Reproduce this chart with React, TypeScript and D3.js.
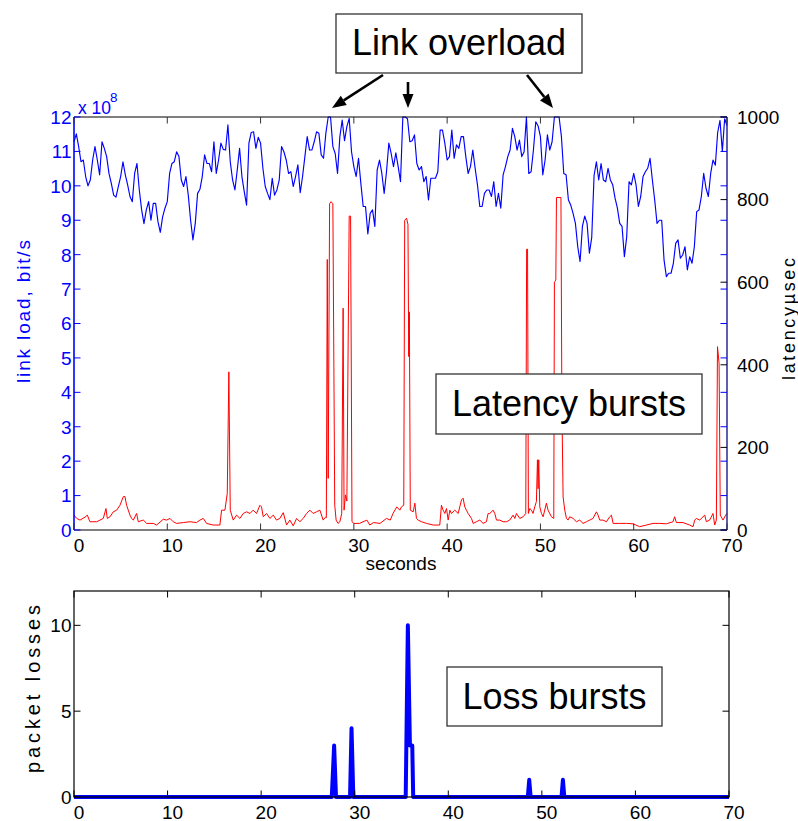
import React from "react";
import * as d3 from "d3";

// ---------- DATA ----------
// link load (x 10^8 bit/s), sampled every 0.25 s
const LOAD_STEP = 0.25;
const loadSeg1 = [ // t = 0 .. 14
  11.28, 11.51, 11.14, 10.7, 10.75, 10.27, 10.0, 10.17, 10.75, 11.14, 10.75, 10.32,
  11.28, 11.09, 10.85, 10.36, 10.07, 9.73, 9.67, 9.98, 10.27, 10.7, 10.32, 10.03,
  9.69, 9.54, 10.36, 10.65, 9.88, 9.3, 8.9, 9.3, 9.54, 9.0, 9.49, 9.49,
  8.96, 8.65, 9.1, 9.35, 9.54, 10.36, 10.65, 10.7, 10.99, 10.85, 10.17, 9.98,
  10.27, 9.73, 9.0, 8.43, 8.91, 9.78, 9.9, 10.27, 10.9,
];
const loadSeg2 = [ // t = 14.25 .. 28
  10.65, 10.65, 10.41, 11.28, 10.36, 10.75, 11.24, 11.06, 11.04, 11.77, 10.7, 10.17,
  9.88, 10.46, 11.09, 10.27, 9.83, 9.44, 11.24, 11.55, 11.57, 11.09, 11.41, 11.24,
  10.51, 9.98, 9.78, 9.6, 10.22, 9.73, 9.88, 10.17, 11.14, 10.99, 10.75, 10.36,
  10.41, 9.98, 10.27, 10.61, 9.8, 10.27, 10.85, 11.43, 11.04, 11.04, 11.28, 11.57,
  11.53, 10.9, 10.8, 11.53, 12.0, 12.0, 11.14, 10.94,
];
const loadSeg3 = [ // t = 28.25 .. 42
  10.36, 11.43, 11.91, 11.31, 11.72, 11.96, 10.99, 10.56, 10.27, 10.8, 10.07, 9.4,
  9.4, 8.6, 9.2, 9.3, 8.82, 10.46, 10.75, 10.36, 9.78, 10.41, 11.24, 10.94,
  10.56, 10.96, 10.56, 10.12, 12.0, 12.0, 11.95, 11.28, 11.31, 11.48, 10.65, 10.46,
  10.56, 10.12, 10.27, 9.59, 10.22, 10.22, 10.22, 10.41, 11.62, 11.62, 11.24, 10.75,
  10.85, 11.62, 10.8, 11.19, 11.09, 11.43, 11.43, 10.85,
];
const loadSeg4 = [ // t = 42.25 .. 56
  10.36, 10.56, 11.04, 10.51, 10.03, 9.4, 9.4, 9.78, 9.88, 9.88, 9.69, 10.12,
  9.4, 9.78, 9.35, 10.32, 10.56, 10.85, 11.04, 11.67, 11.43, 11.04, 11.33, 10.85,
  10.99, 12.0, 10.36, 10.41, 11.04, 11.86, 11.74, 11.43, 10.32, 10.75, 11.48, 11.04,
  11.28, 12.0, 12.0, 12.0, 11.43, 10.36, 10.32, 9.59, 9.44, 9.2, 8.91, 8.23,
  7.8, 8.82, 9.12, 8.91, 8.04, 8.5, 10.3, 10.7,
];
const loadSeg5 = [ // t = 56.25 .. 70
  10.17, 10.65, 10.17, 10.12, 10.51, 10.17, 10.03, 9.64, 9.35, 8.91, 8.82, 7.94,
  8.52, 10.12, 10.03, 10.36, 10.03, 9.4, 9.69, 10.27, 10.41, 10.51, 10.8, 10.17,
  9.59, 8.91, 9.0, 9.0, 7.85, 7.36, 7.46, 7.46, 7.75, 8.33, 8.43, 7.9,
  7.99, 8.23, 7.56, 7.94, 7.75, 8.23, 9.25, 9.3, 9.69, 10.36, 9.93, 9.69,
  10.36, 10.75, 10.6, 11.55, 11.9, 11.0, 11.95, 11.75,
];
const linkLoad = [...loadSeg1, ...loadSeg2, ...loadSeg3, ...loadSeg4, ...loadSeg5];

// latency (µsec)
const latencyTime = [
  0, 0.29, 0.64, 1.18, 1.43, 1.71, 2.43, 3.14, 3.43, 3.57, 3.86, 4.21, 4.57, 4.93, 5.29, 5.46,
  5.64, 6.0, 6.18, 6.36, 6.71, 6.89, 7.43, 7.79, 8.5, 8.86, 9.57, 9.93, 10.29, 10.64, 11.0, 11.71,
  12.43, 13.14, 13.5, 13.86, 14.21, 14.93, 15.64, 15.82, 16.18, 16.43, 16.6, 16.75, 17.07, 17.43,
  17.79, 18.14, 18.5, 18.86, 19.21, 19.57, 19.93, 20.1, 20.29, 20.64, 21.0, 21.36, 21.71, 22.07,
  22.43, 22.79, 23.14, 23.5, 23.86, 24.21, 24.57, 24.93, 25.29, 25.64, 26.0, 26.36, 26.71, 26.96,
  27.05, 27.15, 27.25, 27.4, 27.55, 27.75, 27.95, 28.1, 28.3, 28.5, 28.7, 28.85, 28.95, 29.1,
  29.25, 29.5, 29.65, 29.8, 30.0, 30.6, 31.4, 31.7, 32.1, 32.8, 33.5, 33.9, 34.2, 34.6, 34.93,
  35.1, 35.35, 35.45, 35.65, 35.8, 35.88, 35.95, 36.05, 36.36, 36.54, 36.71, 36.89, 37.25, 37.79,
  38.5, 39.21, 39.39, 39.57, 39.75, 39.93, 40.11, 40.29, 40.46, 40.82, 41.18, 41.54, 41.71, 41.89,
  42.07, 42.25, 42.61, 42.79, 43.14, 43.5, 43.86, 44.21, 44.39, 44.57, 44.93, 45.11, 45.29, 45.64,
  46.0, 46.36, 46.71, 47.07, 47.25, 47.43, 47.79, 48.14, 48.43, 48.52, 48.62, 48.71, 48.86, 49.04,
  49.21, 49.39, 49.57, 49.68, 49.75, 49.82, 49.93, 50.11, 50.29, 50.64, 50.82, 51.18, 51.43, 51.5,
  51.65, 51.72, 52.2, 52.3, 52.43, 52.61, 52.79, 52.96, 53.14, 53.5, 53.86, 54.21, 54.57, 54.93,
  55.29, 55.64, 56.0, 56.18, 56.36, 56.71, 57.07, 57.43, 57.61, 57.79, 58.5, 59.21, 59.93, 60.64,
  61.36, 62.07, 62.79, 63.5, 64.21, 64.39, 64.57, 65.29, 66.0, 66.36, 66.54, 66.71, 67.07, 67.43,
  67.61, 67.79, 68.14, 68.5, 68.68, 68.86, 68.98, 69.15, 69.28, 69.57, 69.86, 70,
];
const latencyUsec = [
  36, 28, 24, 31, 36, 20, 20, 28, 52, 28, 32, 44, 48, 60, 81, 81,
  60, 36, 28, 24, 40, 20, 24, 16, 16, 12, 26, 24, 28, 20, 16, 18,
  20, 18, 24, 28, 16, 12, 12, 48, 48, 89, 383, 48, 24, 36,
  28, 40, 44, 40, 48, 40, 60, 56, 32, 40, 28, 36, 24, 28,
  42, 12, 24, 10, 28, 20, 28, 40, 48, 40, 44, 48, 24, 31,
  30, 655, 125, 790, 795, 790, 60, 24, 16, 20, 40, 537, 48, 85,
  70, 760, 760, 20, 16, 16, 24, 12, 18, 16, 28, 24, 40, 56, 48,
  56, 60, 750, 755, 740, 420, 528, 48, 44, 65, 28, 24, 20, 16,
  12, 12, 60, 48, 40, 52, 24, 48, 40, 48, 40, 73, 77, 56,
  48, 40, 28, 16, 20, 24, 16, 20, 40, 40, 48, 40, 24, 24,
  20, 20, 24, 36, 28, 40, 28, 32, 40, 680, 680, 40, 52, 48,
  40, 56, 69, 170, 100, 170, 56, 40, 32, 65, 48, 32, 28, 600,
  605, 805, 805, 300, 80, 48, 28, 24, 32, 28, 20, 24, 16, 20,
  24, 28, 44, 36, 24, 24, 20, 32, 36, 16, 16, 16, 15, 8,
  12, 16, 16, 15, 20, 32, 18, 18, 12, 8, 24, 28, 24, 32,
  36, 20, 24, 40, 12, 24, 444, 404, 36, 24, 36, 40,
];

// packet losses
const lossTime = [0, 27.55, 27.8, 28.0, 29.5, 29.66, 29.85, 35.45, 35.68, 35.9, 36.15, 36.25, 48.5, 48.65, 48.8, 52.1, 52.25, 52.4, 70];
const lossCount = [0, 0, 3, 0, 0, 4, 0, 0, 10, 3, 3, 0, 0, 1, 0, 0, 1, 0, 0];

// ticks
const secondTicks = [0, 10, 20, 30, 40, 50, 60, 70];
const loadTicks = [0, 1, 2, 3, 4, 5, 6, 7, 8, 9, 10, 11, 12];
const latencyTicks = [0, 200, 400, 600, 800, 1000];
const lossTicks = [0, 5, 10];

// ---------- DRAWING ----------
const FONT = "'Liberation Sans', Arial, Helvetica, sans-serif";
const BLUE = "#0000ff";
const RED = "#ff0000";

function Arrow({ x1, y1, x2, y2 }: { x1: number; y1: number; x2: number; y2: number }) {
  const a = Math.atan2(y2 - y1, x2 - x1);
  const len = 14, half = 5.5;
  const bx = x2 - len * Math.cos(a), by = y2 - len * Math.sin(a);
  const px = -Math.sin(a) * half, py = Math.cos(a) * half;
  return (
    <g>
      <line x1={x1} y1={y1} x2={bx} y2={by} stroke="#000" strokeWidth={2.6} />
      <polygon points={`${x2},${y2} ${bx + px},${by + py} ${bx - px},${by - py}`} fill="#000" />
    </g>
  );
}

export default function App() {
  // top panel
  const L = 74, R = 727, T = 117, B = 530;
  const x = d3.scaleLinear().domain([0, 70]).range([L, R]);
  const yLoad = d3.scaleLinear().domain([0, 12]).range([B, T]);
  const yLat = d3.scaleLinear().domain([0, 1000]).range([B, T]);
  // bottom panel
  const L2 = 74, R2 = 729, T2 = 591, B2 = 797;
  const x2 = d3.scaleLinear().domain([0, 70]).range([L2, R2]);
  const yLoss = d3.scaleLinear().domain([0, 12]).range([B2, T2]);

  const loadPath = d3.line<number>().x((_, i) => x(i * LOAD_STEP)).y((d) => yLoad(d))(linkLoad) || "";
  const latPath = d3.line<number>().x((i) => x(latencyTime[i])).y((i) => yLat(latencyUsec[i]))(latencyTime.map((_, i) => i)) || "";
  const lossPath = d3.line<number>().x((i) => x2(lossTime[i])).y((i) => yLoss(lossCount[i]))(lossTime.map((_, i) => i)) || "";

  const tk = 6.5;

  return (
    <svg width={798} height={821} style={{ position: "absolute", left: 0, top: 0, background: "#fff" }} fontFamily={FONT}>
      <rect x={0} y={0} width={798} height={821} fill="#fff" />

      {/* ===== TOP PANEL ===== */}
      <path d={latPath} fill="none" stroke={RED} strokeWidth={1} strokeLinejoin="round" />
      <path d={loadPath} fill="none" stroke={BLUE} strokeWidth={1.15} strokeLinejoin="round" />

      {/* frame */}
      <line x1={L} y1={T} x2={R} y2={T} stroke="#000" strokeWidth={1.2} />
      <line x1={L} y1={B} x2={R} y2={B} stroke="#000" strokeWidth={1.2} />
      <line x1={R} y1={T} x2={R} y2={B} stroke="#1a1a8c" strokeWidth={1.4} />
      <line x1={L} y1={T} x2={L} y2={B} stroke={BLUE} strokeWidth={1.6} />

      {/* x ticks top and bottom */}
      {secondTicks.map((s) => (
        <g key={"xt" + s}>
          <line x1={x(s)} y1={T} x2={x(s)} y2={T + tk} stroke="#333" strokeWidth={1} />
          <line x1={x(s)} y1={B} x2={x(s)} y2={B - tk} stroke="#333" strokeWidth={1} />
          <text x={x(s) + 5} y={552} fontSize={19} textAnchor="middle" fill="#000">{s}</text>
        </g>
      ))}
      {/* left axis ticks (blue), mirrored on right */}
      {loadTicks.map((v) => (
        <g key={"lt" + v}>
          <line x1={L} y1={yLoad(v)} x2={L + tk} y2={yLoad(v)} stroke={BLUE} strokeWidth={1} />
          <line x1={R} y1={yLoad(v)} x2={R - tk} y2={yLoad(v)} stroke={BLUE} strokeWidth={1} />
          <text x={71.5} y={yLoad(v)} dy="0.36em" fontSize={19} textAnchor="end" fill={BLUE}>{v}</text>
        </g>
      ))}
      {/* right axis ticks (black) */}
      {latencyTicks.map((v) => (
        <g key={"rt" + v}>
          <line x1={R} y1={yLat(v)} x2={R - tk} y2={yLat(v)} stroke="#000" strokeWidth={1} />
          <text x={737} y={yLat(v)} dy="0.36em" fontSize={19} textAnchor="start" fill="#000">{v}</text>
        </g>
      ))}

      {/* exponent */}
      <text x={78} y={114} fontSize={17.5} fill={BLUE}>x 10</text>
      <text x={110} y={101.5} fontSize={13.5} fill={BLUE}>8</text>

      {/* axis labels */}
      <text transform="translate(30,311.5) rotate(-90)" fontSize={19} textAnchor="middle" fill={BLUE} textLength={143} lengthAdjust="spacing">link load, bit/s</text>
      <text transform="translate(795,319) rotate(-90)" fontSize={18} textAnchor="middle" fill="#000" textLength={122} lengthAdjust="spacing">latencyµsec</text>
      <text x={401} y={570} fontSize={19} textAnchor="middle" fill="#000">seconds</text>

      {/* annotations */}
      <rect x={336} y={14} width={246} height={59} fill="#fff" stroke="#333" strokeWidth={1.3} />
      <text x={459} y={55} fontSize={36} textAnchor="middle" fill="#000">Link overload</text>
      <Arrow x1={383} y1={75} x2={332} y2={108} />
      <Arrow x1={408} y1={82} x2={408} y2={108} />
      <Arrow x1={527} y1={75} x2={553} y2={108} />

      <rect x={436} y={374} width={266} height={60} fill="#fff" stroke="#333" strokeWidth={1.3} />
      <text x={569} y={416} fontSize={36} textAnchor="middle" fill="#000">Latency bursts</text>

      {/* ===== BOTTOM PANEL ===== */}
      <path d={lossPath} fill="none" stroke={BLUE} strokeWidth={4} strokeLinejoin="round" strokeLinecap="butt" />
      <rect x={L2} y={T2} width={R2 - L2} height={B2 - T2} fill="none" stroke="#000" strokeWidth={1.2} />
      {secondTicks.map((s) => (
        <g key={"bxt" + s}>
          <line x1={x2(s)} y1={T2} x2={x2(s)} y2={T2 + tk} stroke="#000" strokeWidth={1} />
          <line x1={x2(s)} y1={B2} x2={x2(s)} y2={B2 - tk} stroke="#000" strokeWidth={1} />
          <text x={x2(s) + 5} y={818.5} fontSize={19} textAnchor="middle" fill="#000">{s}</text>
        </g>
      ))}
      {lossTicks.map((v) => (
        <g key={"byt" + v}>
          <line x1={L2} y1={yLoss(v)} x2={L2 + tk} y2={yLoss(v)} stroke="#000" strokeWidth={1} />
          <line x1={R2} y1={yLoss(v)} x2={R2 - tk} y2={yLoss(v)} stroke="#000" strokeWidth={1} />
          <text x={71.5} y={yLoss(v)} dy="0.36em" fontSize={19} textAnchor="end" fill="#000">{v}</text>
        </g>
      ))}
      <text transform="translate(39.5,689) rotate(-90)" fontSize={20} textAnchor="middle" fill="#000" textLength={168} lengthAdjust="spacing">packet losses</text>

      <rect x={447} y={667} width={215} height={59} fill="#fff" stroke="#333" strokeWidth={1.3} />
      <text x={554.5} y={709} fontSize={36} textAnchor="middle" fill="#000">Loss bursts</text>
    </svg>
  );
}
